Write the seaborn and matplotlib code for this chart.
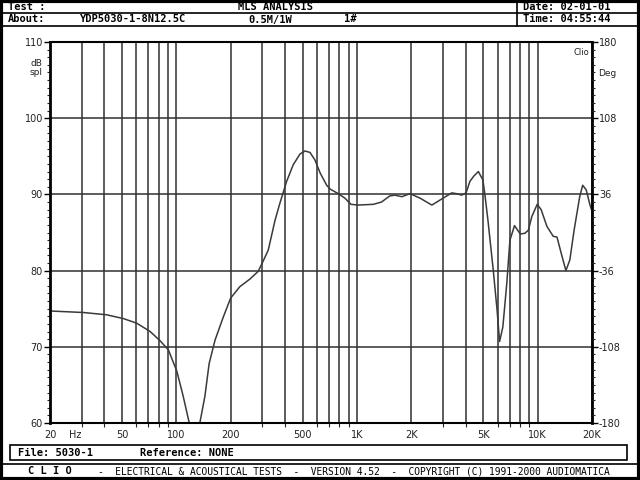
#=====================================================================================================
# Program Name     : ClioMlsResponsePlot
# Description      : Redraws a CLIO MLS analysis screen: SPL frequency response of YDP5030-1
# Output           : out.png
#=====================================================================================================

import pandas as pd
import matplotlib
matplotlib.use("Agg")
import matplotlib.pyplot as plt
from matplotlib.patches import Rectangle
from matplotlib.lines import Line2D
from matplotlib.ticker import FixedLocator, NullFormatter, MultipleLocator
import seaborn as sns

freq_hz = [20, 30.6, 41.2, 51, 60.4, 71.7, 81.3, 90.4, 100.7, 109, 118, 126, 135, 144,
           152, 164, 182, 200, 225, 256, 284, 302, 323, 352, 374, 408, 444, 484, 516,
           550, 586, 626, 680, 710, 788, 858, 926, 1012, 1234, 1368, 1520, 1625, 1774,
           1966, 2238, 2598, 2948, 3346, 3556, 3800, 4020, 4216, 4434, 4700, 4977, 5100,
           5310, 5680, 5966, 6160, 6420, 6750, 7026, 7450, 8020, 8500, 8890, 9290, 9950,
           10460, 11260, 12200, 12800, 13500, 14340, 15080, 15920, 17100, 17760, 18580,
           19500, 20000]
spl_db = [74.7, 74.5, 74.2, 73.7, 73.1, 72.0, 70.8, 69.6, 66.8, 63.6, 60.0, 56.0, 60.0, 63.5,
          67.8, 70.9, 73.9, 76.4, 77.9, 78.9, 79.9, 81.2, 82.7, 86.6, 88.8, 91.7, 93.9, 95.3, 95.7,
          95.5, 94.5, 92.8, 91.2, 90.7, 90.1, 89.5, 88.7, 88.6, 88.7, 89.0, 89.8, 89.9, 89.7,
          90.1, 89.5, 88.6, 89.4, 90.2, 90.1, 89.9, 90.2, 91.7, 92.4, 93.0, 91.9, 90.1,
          86.6, 80.1, 74.8, 70.7, 72.6, 78.3, 84.0, 85.9, 84.8, 84.9, 85.3, 87.1, 88.7,
          88.0, 85.8, 84.5, 84.4, 82.3, 80.0, 81.4, 85.3, 89.7, 91.2, 90.6,
          88.6, 87.8]

x_ticks = [20, 50, 100, 200, 500, 1000, 2000, 5000, 10000, 20000]
x_labels = ["20", "50", "100", "200", "500", "1K", "2K", "5K", "10K", "20K"]
y_ticks = [60, 70, 80, 90, 100, 110]
deg_labels = ["-180", "-108", "-36", "36", "108", "180"]

W, H = 640, 480


def fx(x):
    return x / W


def fy(y):
    return 1 - y / H


def hline(fig, x0, x1, y, lw=1.2):
    fig.add_artist(Line2D([fx(x0), fx(x1)], [fy(y), fy(y)], color="black", lw=lw,
                          transform=fig.transFigure))


def vline(fig, x, y0, y1, lw=1.2):
    fig.add_artist(Line2D([fx(x), fx(x)], [fy(y0), fy(y1)], color="black", lw=lw,
                          transform=fig.transFigure))


def draw_frame(fig):
    mono = dict(family="DejaVu Sans Mono", fontweight="bold", color="black",
                transform=fig.transFigure, va="center")
    fig.add_artist(Rectangle((0.002, 0.002), 0.996, 0.996, fill=False, lw=3,
                             edgecolor="black", transform=fig.transFigure))
    hline(fig, 0, W, 13)
    hline(fig, 0, W, 26)
    vline(fig, 517, 0, 26)
    fig.text(fx(8), fy(7), "Test :", fontsize=7.5, **mono)
    fig.text(fx(275), fy(7), "MLS ANALYSIS", fontsize=7.5, ha="center", **mono)
    fig.text(fx(8), fy(19.5), "About:", fontsize=7.5, **mono)
    fig.text(fx(80), fy(19.5), "YDP5030-1-8N12.5C", fontsize=7.5, **mono)
    fig.text(fx(248), fy(19.5), "0.5M/1W", fontsize=7.5, **mono)
    fig.text(fx(344), fy(19.5), "1#", fontsize=7.5, **mono)
    fig.text(fx(523), fy(7), "Date: 02-01-01", fontsize=7.5, **mono)
    fig.text(fx(523), fy(19.5), "Time: 04:55:44", fontsize=7.5, **mono)

    fig.add_artist(Rectangle((fx(10), fy(460)), fx(617), 15 / H, fill=False, lw=1.2,
                             edgecolor="black", transform=fig.transFigure))
    fig.text(fx(18), fy(452.5), "File: 5030-1", fontsize=7.5, **mono)
    fig.text(fx(140), fy(452.5), "Reference: NONE", fontsize=7.5, **mono)
    hline(fig, 0, W, 464)
    fig.text(fx(28), fy(471.5), "C L I O", fontsize=7.5, **mono)
    fig.text(fx(98), fy(471.5),
             "-  ELECTRICAL & ACOUSTICAL TESTS  -  VERSION 4.52  -  COPYRIGHT (C) 1991-2000 AUDIOMATICA",
             fontsize=6.9, ha="left", family="DejaVu Sans Mono", color="black",
             transform=fig.transFigure, va="center")


def plot_response(df):
    sns.set_theme(style="white")
    plt.rcParams["font.family"] = ["DejaVu Sans"]
    fig = plt.figure(figsize=(6.4, 4.8), dpi=100)
    ax = fig.add_axes([fx(50), fy(423), fx(542), 381 / H])

    sns.lineplot(data=df, x="freq", y="spl", ax=ax, color="#3a3a3a", lw=1.1)

    ax.set_xscale("log")
    ax.set_xlim(20, 20000)
    ax.set_ylim(60, 110)
    ax.xaxis.set_major_locator(FixedLocator(x_ticks))
    ax.set_xticklabels(x_labels)
    minor = [m * d for d in (10, 100, 1000) for m in range(2, 10)
             if 20 < m * d < 20000 and m * d not in x_ticks]
    ax.xaxis.set_minor_locator(FixedLocator(minor))
    ax.xaxis.set_minor_formatter(NullFormatter())
    ax.set_yticks(y_ticks)
    ax.yaxis.set_minor_locator(MultipleLocator(1))
    ax.grid(True, which="both", axis="x", color="#303030", lw=1.1)
    ax.grid(True, which="major", axis="y", color="#303030", lw=1.1)
    ax.set_xlabel("")
    ax.set_ylabel("")
    ax.tick_params(axis="both", which="major", labelsize=7, length=4, width=1,
                   color="black", labelcolor="#222222", pad=1, direction="out")
    ax.tick_params(axis="y", which="minor", length=2, width=0.8, left=True, direction="out")
    ax.tick_params(axis="x", which="minor", length=3, width=0.8, bottom=True, direction="out")
    for side in ("left", "right", "bottom", "top"):
        ax.spines[side].set_color("black")
    ax.spines["left"].set_linewidth(2)
    ax.spines["right"].set_linewidth(2)
    ax.spines["bottom"].set_linewidth(1.5)
    ax.spines["top"].set_linewidth(1.5)

    ax2 = ax.twinx()
    ax2.set_ylim(60, 110)
    ax2.set_yticks(y_ticks)
    ax2.set_yticklabels(deg_labels)
    ax2.yaxis.set_minor_locator(MultipleLocator(1))
    ax2.tick_params(axis="y", which="major", labelsize=7, length=4, width=1,
                    color="black", labelcolor="#222222", pad=1)
    ax2.tick_params(axis="y", which="minor", length=2, width=0.8, right=True)
    ax2.grid(False)
    for side in ("left", "right", "bottom", "top"):
        ax2.spines[side].set_visible(False)

    fig.text(fx(36), fy(68), "dB\nspl", fontsize=6.5, ha="center", va="center",
             color="#222222", linespacing=0.9)
    fig.text(fx(607), fy(73), "Deg", fontsize=6.5, ha="center", va="center", color="#222222")
    fig.text(fx(75), fy(434.5), "Hz", fontsize=7, ha="center", va="center", color="#222222")
    ax.text(0.995, 0.985, "Clio", transform=ax.transAxes, fontsize=6, ha="right", va="top",
            color="#222222", bbox=dict(facecolor="white", edgecolor="none", pad=0.5))

    draw_frame(fig)
    fig.savefig("out.png", dpi=100)


def main():
    df = pd.DataFrame({"freq": freq_hz, "spl": spl_db})
    plot_response(df)


if __name__ == "__main__":
    main()
